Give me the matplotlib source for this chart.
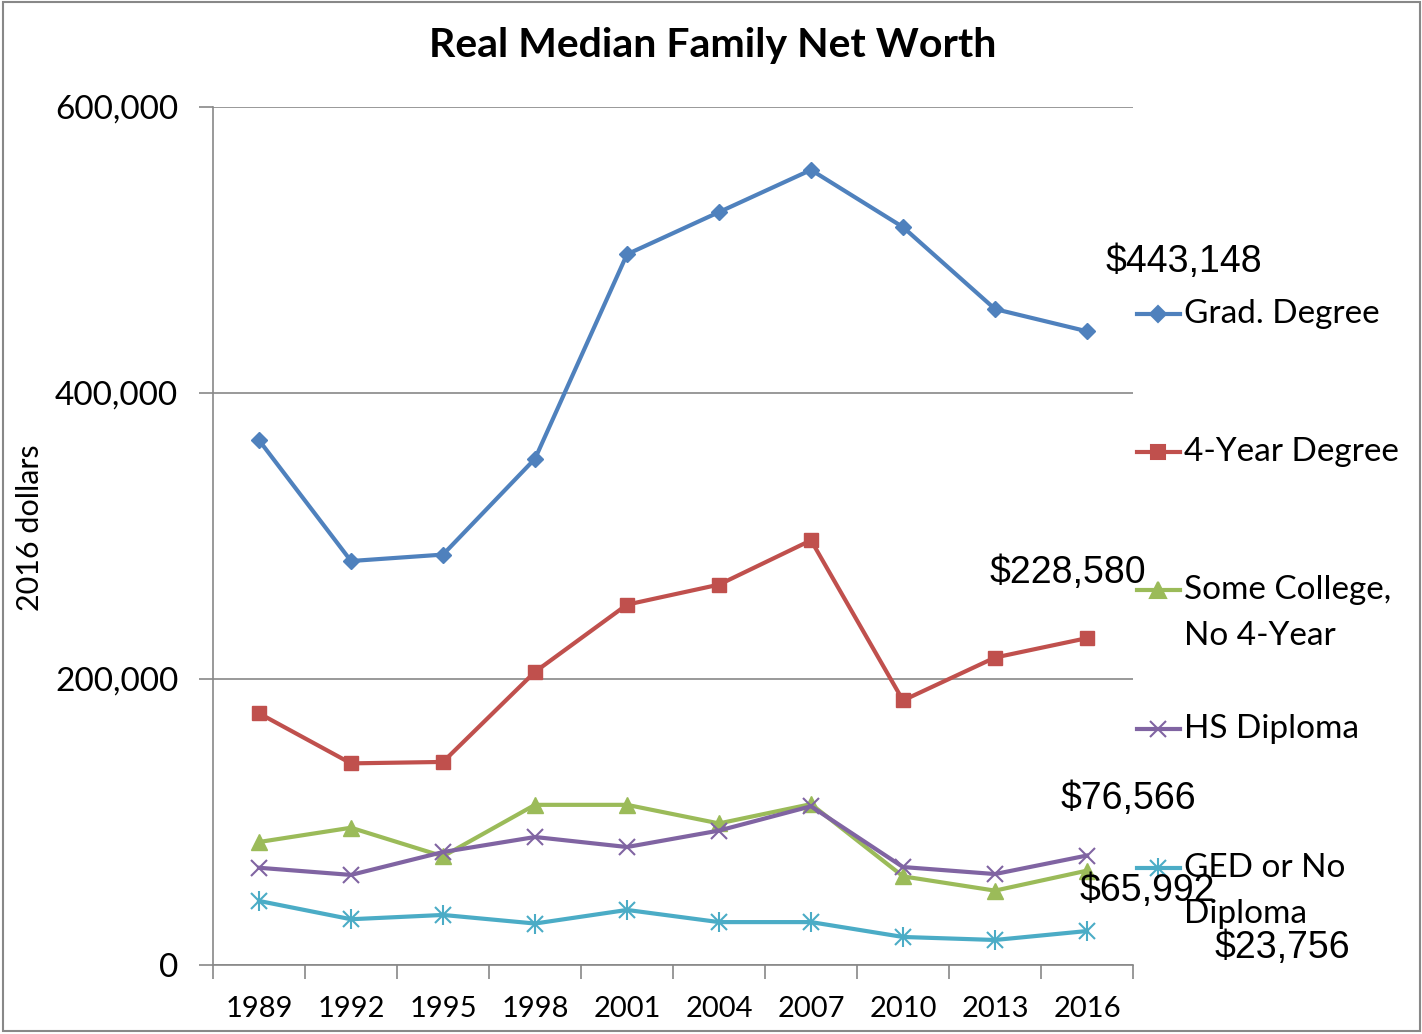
import matplotlib.pyplot as plt
import numpy as np
from matplotlib.lines import Line2D
from matplotlib.patches import Rectangle

years = ["1989", "1992", "1995", "1998", "2001", "2004", "2007", "2010", "2013", "2016"]
grad = [367000, 282500, 287000, 354000, 497000, 526500, 556000, 516000, 458700, 443148]
four_year = [176000, 141000, 142000, 205000, 252000, 266000, 297000, 185000, 215000, 228580]
some_college = [86000, 96000, 76000, 112000, 112000, 99000, 112500, 62000, 52000, 65992]
hs_diploma = [68000, 63000, 79000, 89500, 82500, 94000, 111000, 68500, 63600, 76566]
ged = [44800, 32000, 35000, 29000, 38500, 30000, 30000, 19600, 17500, 23756]

labels = ["Grad. Degree", "4-Year Degree", "Some College,\nNo 4-Year", "HS Diploma", "GED or No\nDiploma"]
end_labels = ["$443,148", "$228,580", "$65,992", "$76,566", "$23,756"]

W, H = 1422, 1034
fig = plt.figure(figsize=(W / 100, H / 100), dpi=100)
ax = fig.add_axes([213 / W, 1 - 965 / H, (1133 - 213) / W, (965 - 107) / H])

def fx(px):
    return px / W

def fy(py):
    return 1 - py / H

x = np.arange(len(years))
lw = 3
ax.plot(x, grad, color="#4F81BD", lw=lw, marker="D", ms=8, zorder=5)
ax.plot(x, four_year, color="#C0504D", lw=lw, marker="s", ms=10, zorder=5)
ax.plot(x, some_college, color="#9BBB59", lw=lw, marker="^", ms=12, zorder=5)
ax.plot(x, hs_diploma, color="#8064A2", lw=lw, marker="x", ms=12, mew=1.5, zorder=5)
ax.plot(x, ged, color="#4BACC6", lw=lw, marker="x", ms=12, mew=1.5, zorder=5)
ax.plot(x, ged, color="#4BACC6", lw=0, marker="|", ms=15, mew=1.5, zorder=5)

ax.set_xlim(-0.5, len(years) - 0.5)
ax.set_ylim(0, 600000)
ax.set_yticks([0, 200000, 400000, 600000])
ax.set_yticklabels(["0", "200,000", "400,000", "600,000"], family="Lato", fontsize=24)
ax.set_xticks(x)
ax.set_xticklabels(years, family="Lato", fontsize=21)
ax.set_xticks(np.arange(-0.5, len(years)), minor=True)
ax.tick_params(axis="x", which="major", length=0, pad=22)
ax.tick_params(axis="x", which="minor", length=10, width=1.2, color="#888888", direction="out")
ax.tick_params(axis="y", length=10, width=1.2, color="#888888", pad=15)
ax.grid(axis="y", color="#888888", lw=1.2)
ax.set_axisbelow(True)
for s in ["top", "right"]:
    ax.spines[s].set_visible(False)
for s in ["left", "bottom"]:
    ax.spines[s].set_color("#888888")
    ax.spines[s].set_linewidth(1.2)

fig.text(fx(713), fy(45), "Real Median Family Net Worth", family="Lato", fontweight="bold",
         fontsize=29.5, ha="center", va="center")
fig.text(fx(30), fy(528), "2016 dollars", family="Lato", fontsize=22, rotation=90,
         ha="center", va="center")

# legend drawn by hand, Excel style
leg_y = [314, 452, 590, 729, 868]
styles = [("#4F81BD", "D", 8), ("#C0504D", "s", 10), ("#9BBB59", "^", 12),
          ("#8064A2", "x", 12), ("#4BACC6", "x", 12)]
for (c, m, ms), yy, lab in zip(styles, leg_y, labels):
    fig.add_artist(Line2D([fx(1137), fx(1180)], [fy(yy), fy(yy)], color=c, lw=lw))
    fig.add_artist(Line2D([fx(1158)], [fy(yy)], color=c, marker=m, ms=ms, mew=1.5, lw=0))
    if c == "#4BACC6":
        fig.add_artist(Line2D([fx(1158)], [fy(yy)], color=c, marker="|", ms=15, mew=1.5, lw=0))
    for i, line in enumerate(lab.split("\n")):
        fig.text(fx(1184), fy(yy + 46 * i), line, family="Lato", fontsize=24, va="center", ha="left")

# end value labels
lab_pos = [(1184, 262), (1068, 573), (1147, 891), (1128, 799), (1282, 948)]
for t, (px, py) in zip(end_labels, lab_pos):
    fig.text(fx(px), fy(py), t, family="Liberation Sans", fontsize=27, ha="center", va="center")

fig.add_artist(Rectangle((fx(3), fy(1031)), fx(1417), fy(2) - fy(1031), fill=False,
                         edgecolor="#888888", lw=1.5))

plt.savefig("out.png", dpi=100)
